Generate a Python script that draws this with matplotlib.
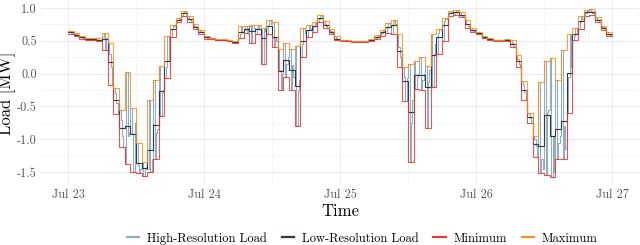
import numpy as np
import pandas as pd
import matplotlib
matplotlib.use("Agg")
import matplotlib.pyplot as plt
import matplotlib.dates as mdates
from matplotlib.ticker import FixedLocator, FuncFormatter

# high resolution load, 15 min samples, one row per hour (Jul 23 00:00 -> Jul 27 00:00)
hires = [
    # Jul 23
    .65, .64, .62, .61,   .62, .60, .59, .57,   .57, .56, .55, .53,   .55, .54, .53, .52,
    .54, .53, .52, .51,   .54, .52, .52, .50,   .56, .62, .36, .55,   .47, .30, .10, -.18,
    -.22, -.30, -.45, -.62,   -.55, -.70, -.95, -1.12,   -1.38, .03, -.95, -.90,   -.52, -.90, -1.50, -.75,
    -1.05, -1.40, -1.52, -1.45,   -1.35, -1.56, -1.45, -1.42,   -1.45, -.40, -1.50, -1.30,   -.10, -1.30, -.90, -.85,
    .12, -.65, -.30, -.25,   -.07, .10, .57, .20,   .56, .68, .74, .72,   .78, .82, .85, .84,
    .88, .93, .95, .91,   .88, .84, .81, .79,   .76, .73, .70, .68,   .67, .65, .63, .60,
    # Jul 24
    .58, .56, .55, .53,   .55, .54, .54, .53,   .53, .52, .52, .51,   .53, .52, .51, .51,
    .52, .51, .50, .49,   .49, .46, .47, .50,   .55, .60, .72, .64,   .66, .73, .62, .70,
    .72, .46, .74, .70,   .60, .70, .74, .68,   .66, .14, .70, .65,   .60, .72, .81, .76,
    .78, .40, .56, .50,   .38, .05, -.25, .00,   .46, -.05, .15, .25,   .38, -.25, .13, -.05,
    .42, -.80, -.25, -.10,   .26, .45, .69, .62,   .56, .66, .74, .68,   .64, .72, .79, .76,
    .79, .84, .90, .86,   .80, .75, .72, .69,   .68, .65, .62, .60,   .57, .54, .52, .51,
    # Jul 25
    .52, .51, .50, .50,   .51, .50, .50, .49,   .50, .49, .49, .48,   .50, .49, .49, .48,
    .50, .49, .48, .49,   .49, .51, .52, .53,   .53, .55, .58, .59,   .58, .62, .66, .65,
    .62, .70, .77, .74,   .60, .78, .81, .75,   .60, .40, .25, .10,   .10, -.05, -.42, -.07,
    .14, -1.35, -.75, -.40,   .20, -.23, -.05, .00,   .25, -.25, -.10, .00,   .11, -.83, -.13, .05,
    .60, -.20, .30, .45,   .30, .62, .68, .66,   .50, .80, .85, .83,   .88, .92, .96, .93,
    .90, .93, .97, .94,   .94, .90, .88, .87,   .82, .76, .73, .70,   .70, .67, .65, .63,
    # Jul 26
    .64, .63, .62, .60,   .58, .56, .55, .54,   .54, .52, .52, .51,   .52, .51, .51, .50,
    .52, .51, .50, .51,   .52, .53, .51, .50,   .52, .47, .42, .40,   .28, .22, .15, .10,
    -.12, -.18, -.28, -.40,   -.60, -.62, -.68, -.75,   -.95, -1.00, -1.10, -1.27,   -.13, -1.52, -1.30, -1.45,
    .20, -1.55, -.60, -.55,   .24, -1.57, -.95, -1.50,   -.10, -1.30, -1.05, -.95,   .36, -1.30, -.80, -1.15,
    -.60, -.05, .60, .10,   .52, .58, .70, .62,   .68, .78, .88, .84,   .88, .93, .97, .95,
    .98, .95, .92, .90,   .86, .83, .81, .79,   .73, .71, .69, .67,   .63, .61, .59, .57,
]

series_names = ["High-Resolution Load", "Low-Resolution Load", "Minimum", "Maximum"]
series_colors = ["#94ADBD", "#2F3B42", "#E5383B", "#F7931E"]
day_labels = ["Jul 23", "Jul 24", "Jul 25", "Jul 26", "Jul 27"]
y_ticks = [-1.5, -1.0, -0.5, 0.0, 0.5, 1.0]

plt.rcParams["font.family"] = "serif"
plt.rcParams["font.serif"] = ["cmr10"]
plt.rcParams["mathtext.fontset"] = "cm"
plt.rcParams["axes.unicode_minus"] = False

hr = np.array(hires)
t_hr = pd.date_range("2024-07-23", periods=len(hr), freq="15min")
hourly = hr.reshape(-1, 4)
lo_res = hourly.mean(axis=1)
mins = hourly.min(axis=1)
maxs = hourly.max(axis=1)
t_h = pd.date_range("2024-07-23", periods=len(lo_res), freq="h")
end = pd.Timestamp("2024-07-27")

def stepped(t, v):
    return list(t) + [end], list(v) + [v[-1]]

fig = plt.figure(figsize=(6.4, 2.45), dpi=100)
ax = fig.add_axes([0.064, 0.245, 0.935, 0.751])

handles = []
for vals, t, c, lab, a in [(hr, t_hr, series_colors[0], series_names[0], 1.0),
                           (lo_res, t_h, series_colors[1], series_names[1], 1.0),
                           (mins, t_h, series_colors[2], series_names[2], 0.85),
                           (maxs, t_h, series_colors[3], series_names[3], 0.85)]:
    xs, ys = stepped(t, vals)
    ax.step(xs, ys, where="post", color=c, lw=0.8, alpha=a)
    handles.append(plt.Line2D([], [], color=c, lw=1.6, label=lab))

start = pd.Timestamp("2024-07-23")
pad = pd.Timedelta(hours=4.8)
ax.set_xlim(start - pad, end + pad)
rng = maxs.max() - mins.min()
ax.set_ylim(mins.min() - 0.05 * rng, maxs.max() + 0.05 * rng)

days = pd.date_range(start, end, freq="D")
ax.xaxis.set_major_locator(FixedLocator(mdates.date2num(days)))
ax.xaxis.set_minor_locator(FixedLocator(mdates.date2num(days[:-1] + pd.Timedelta(hours=12))))
ax.set_xticklabels(day_labels)
ax.yaxis.set_major_locator(FixedLocator(y_ticks))
ax.yaxis.set_minor_locator(FixedLocator([v + 0.25 for v in y_ticks[:-1]]))
ax.yaxis.set_major_formatter(FuncFormatter(lambda v, p: "%.1f" % v))

ax.grid(which="major", color="#EBEBEB", lw=0.8)
ax.grid(which="minor", color="#F4F4F4", lw=0.6)
ax.set_axisbelow(True)
for s in ax.spines.values():
    s.set_visible(False)
ax.tick_params(which="both", length=0)
ax.tick_params(axis="both", labelsize=8.8, colors="#555555", pad=3)

ax.set_xlabel("Time", fontsize=12, labelpad=2)
ax.set_ylabel("Load [MW]", fontsize=12)
ax.yaxis.set_label_coords(-0.041, 0.5)

fig.legend(handles=handles, loc="lower center", bbox_to_anchor=(0.566, -0.045), ncol=4, frameon=False,
           fontsize=9, handlelength=1.0, handletextpad=0.6, columnspacing=1.2)

fig.savefig("out.png", dpi=100)
